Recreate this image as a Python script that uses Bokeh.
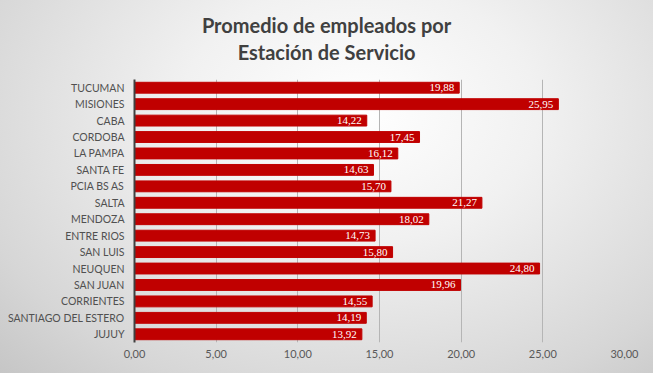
from bokeh.plotting import figure
from bokeh.models import ColumnDataSource, LabelSet, FactorRange, Range1d
from bokeh.layouts import column
from bokeh.core.properties import value
from bokeh.embed import file_html
from bokeh.resources import INLINE

provincias = ["TUCUMAN", "MISIONES", "CABA", "CORDOBA", "LA PAMPA", "SANTA FE",
              "PCIA BS AS", "SALTA", "MENDOZA", "ENTRE RIOS", "SAN LUIS", "NEUQUEN",
              "SAN JUAN", "CORRIENTES", "SANTIAGO DEL ESTERO", "JUJUY"]
promedio = [19.88, 25.95, 14.22, 17.45, 16.12, 14.63, 15.70, 21.27, 18.02, 14.73,
            15.80, 24.80, 19.96, 14.55, 14.19, 13.92]
x_ticks = [0, 5, 10, 15, 20, 25, 30]
titulo = ["Promedio de empleados por", "Estación de Servicio"]

etiquetas = [f"{v:.2f}".replace(".", ",") for v in promedio]
src = ColumnDataSource(dict(cat=provincias, val=promedio, lab=etiquetas))

FONT = "Lato"

# ---- title strip (its frame is aligned with the chart frame by the column layout) ----
pt = figure(width=653, height=79, output_backend="svg", toolbar_location=None,
            x_range=Range1d(0, 1), y_range=Range1d(0, 1),
            x_axis_type=None, y_axis_type=None, min_border=0)
pt.grid.visible = False
pt.border_fill_color = None
pt.background_fill_color = None
pt.outline_line_color = None
pt.text(x=[0.392, 0.392], y=[0.684, 0.342], text=titulo,
        text_align="center", text_baseline="middle",
        text_font=value(FONT), text_font_size="20px", text_font_style="bold",
        text_color="#404040")

# ---- bar chart ----
p = figure(width=653, height=294, output_backend="svg", toolbar_location=None,
           y_range=FactorRange(*reversed(provincias), range_padding=0),
           x_range=(0, 30),
           min_border_left=134, min_border_right=29, min_border_top=0, min_border_bottom=31)
p.border_fill_color = None
p.background_fill_color = None
p.outline_line_color = None

p.hbar(y="cat", right="val", left=0, height=0.66, color="#C00000", source=src)

labels = LabelSet(x="val", y="cat", text="lab", source=src, x_offset=-5,
                  text_align="right", text_baseline="middle", text_color="white",
                  text_font_size="11px", text_font=FONT)
p.add_layout(labels)

p.xaxis.ticker = x_ticks
p.xaxis.major_label_overrides = {t: f"{t:.2f}".replace(".", ",") for t in x_ticks}
p.xaxis.axis_line_color = None
p.xaxis.major_tick_line_color = None
p.xaxis.major_tick_out = 0
p.xaxis.major_tick_in = 0
p.xaxis.minor_tick_line_color = None
p.xaxis.major_label_text_color = "#595959"
p.xaxis.major_label_text_font = FONT
p.xaxis.major_label_text_font_size = "11px"
p.xaxis.major_label_standoff = 7

p.yaxis.axis_line_color = "#404040"
p.yaxis.axis_line_width = 2
p.yaxis.major_tick_line_color = None
p.yaxis.major_tick_out = 0
p.yaxis.major_tick_in = 0
p.yaxis.minor_tick_line_color = None
p.yaxis.major_label_text_color = "#505050"
p.yaxis.major_label_text_font = FONT
p.yaxis.major_label_text_font_size = "10.5px"
p.yaxis.major_label_standoff = 10

p.xgrid.grid_line_color = "#b5b5b5"
p.ygrid.grid_line_color = None

layout = column(pt, p, spacing=0)
layout.styles = {"background": "radial-gradient(ellipse farthest-corner at 55% 30%, #ffffff 0%, #f1f1f1 35%, #d6d6d6 80%, #c6c6c6 100%)"}

open("out.html", "w").write(file_html(layout, INLINE))
